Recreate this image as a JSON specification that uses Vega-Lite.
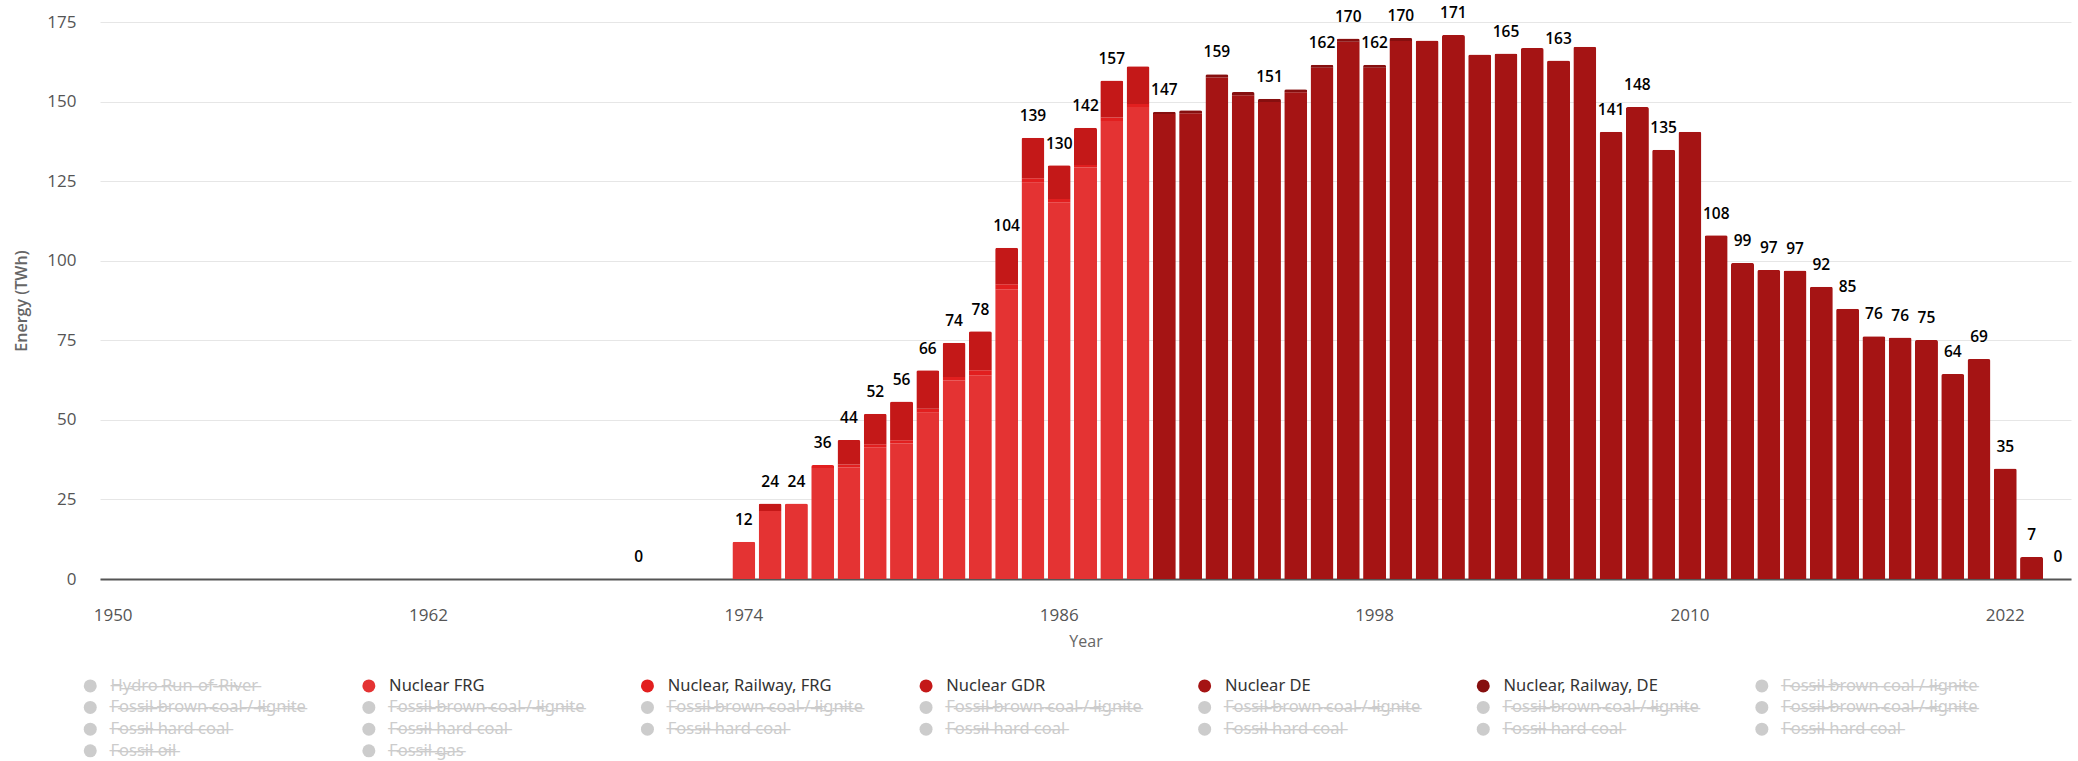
{
  "$schema": "https://vega.github.io/schema/vega-lite/v6.json",
  "width": 1971,
  "height": 557,
  "autosize": {"type": "none"},
  "padding": {"left": 100, "top": 22, "right": 7, "bottom": 182},
  "background": "white",
  "config": {
    "font": "Open Sans",
    "view": {"stroke": null},
    "axisX": {"labelAngle": 0, "ticks": false, "labelPadding": 28, "labelFontSize": 17, "labelColor": "#555555", "domainColor": "#555555", "domainWidth": 2, "grid": false, "titleFontSize": 16, "titleFontWeight": "normal", "titleColor": "#666666", "titlePadding": 10},
    "axisY": {"ticks": false, "domain": false, "labelPadding": 24, "labelFontSize": 17, "labelColor": "#555555", "gridColor": "#e6e6e6", "gridWidth": 1, "titleFontSize": 16, "titleFontWeight": 600, "titleColor": "#666666", "titlePadding": 17}
  },
  "datasets": {
    "nuclear": [
      {"year": 1970, "series": "Nuclear FRG", "value": 0},
      {"year": 1974, "series": "Nuclear FRG", "value": 11.7},
      {"year": 1975, "series": "Nuclear FRG", "value": 21.4},
      {"year": 1975, "series": "Nuclear GDR", "value": 2.3},
      {"year": 1976, "series": "Nuclear FRG", "value": 23.7},
      {"year": 1977, "series": "Nuclear FRG", "value": 34.9},
      {"year": 1977, "series": "Nuclear, Railway, FRG", "value": 0.9},
      {"year": 1978, "series": "Nuclear FRG", "value": 35.0},
      {"year": 1978, "series": "Nuclear, Railway, FRG", "value": 1.0},
      {"year": 1978, "series": "Nuclear GDR", "value": 7.7},
      {"year": 1979, "series": "Nuclear FRG", "value": 41.4},
      {"year": 1979, "series": "Nuclear, Railway, FRG", "value": 0.9},
      {"year": 1979, "series": "Nuclear GDR", "value": 9.6},
      {"year": 1980, "series": "Nuclear FRG", "value": 42.6},
      {"year": 1980, "series": "Nuclear, Railway, FRG", "value": 1.0},
      {"year": 1980, "series": "Nuclear GDR", "value": 12.2},
      {"year": 1981, "series": "Nuclear FRG", "value": 52.2},
      {"year": 1981, "series": "Nuclear, Railway, FRG", "value": 1.3},
      {"year": 1981, "series": "Nuclear GDR", "value": 12.1},
      {"year": 1982, "series": "Nuclear FRG", "value": 62.4},
      {"year": 1982, "series": "Nuclear, Railway, FRG", "value": 1.1},
      {"year": 1982, "series": "Nuclear GDR", "value": 10.7},
      {"year": 1983, "series": "Nuclear FRG", "value": 64.0},
      {"year": 1983, "series": "Nuclear, Railway, FRG", "value": 1.6},
      {"year": 1983, "series": "Nuclear GDR", "value": 12.2},
      {"year": 1984, "series": "Nuclear FRG", "value": 91.0},
      {"year": 1984, "series": "Nuclear, Railway, FRG", "value": 1.6},
      {"year": 1984, "series": "Nuclear GDR", "value": 11.5},
      {"year": 1985, "series": "Nuclear FRG", "value": 124.5},
      {"year": 1985, "series": "Nuclear, Railway, FRG", "value": 1.4},
      {"year": 1985, "series": "Nuclear GDR", "value": 12.7},
      {"year": 1986, "series": "Nuclear FRG", "value": 118.4},
      {"year": 1986, "series": "Nuclear, Railway, FRG", "value": 1.0},
      {"year": 1986, "series": "Nuclear GDR", "value": 10.6},
      {"year": 1987, "series": "Nuclear FRG", "value": 129.3},
      {"year": 1987, "series": "Nuclear, Railway, FRG", "value": 0.8},
      {"year": 1987, "series": "Nuclear GDR", "value": 11.7},
      {"year": 1988, "series": "Nuclear FRG", "value": 143.9},
      {"year": 1988, "series": "Nuclear, Railway, FRG", "value": 1.1},
      {"year": 1988, "series": "Nuclear GDR", "value": 11.6},
      {"year": 1989, "series": "Nuclear FRG", "value": 148.3},
      {"year": 1989, "series": "Nuclear, Railway, FRG", "value": 0.9},
      {"year": 1989, "series": "Nuclear GDR", "value": 11.9},
      {"year": 1990, "series": "Nuclear DE", "value": 146.1},
      {"year": 1990, "series": "Nuclear, Railway, DE", "value": 0.7},
      {"year": 1991, "series": "Nuclear DE", "value": 146.3},
      {"year": 1991, "series": "Nuclear, Railway, DE", "value": 1.0},
      {"year": 1992, "series": "Nuclear DE", "value": 157.6},
      {"year": 1992, "series": "Nuclear, Railway, DE", "value": 1.0},
      {"year": 1993, "series": "Nuclear DE", "value": 152.0},
      {"year": 1993, "series": "Nuclear, Railway, DE", "value": 1.0},
      {"year": 1994, "series": "Nuclear DE", "value": 149.9},
      {"year": 1994, "series": "Nuclear, Railway, DE", "value": 1.0},
      {"year": 1995, "series": "Nuclear DE", "value": 152.9},
      {"year": 1995, "series": "Nuclear, Railway, DE", "value": 1.0},
      {"year": 1996, "series": "Nuclear DE", "value": 160.6},
      {"year": 1996, "series": "Nuclear, Railway, DE", "value": 1.0},
      {"year": 1997, "series": "Nuclear DE", "value": 168.8},
      {"year": 1997, "series": "Nuclear, Railway, DE", "value": 1.0},
      {"year": 1998, "series": "Nuclear DE", "value": 160.6},
      {"year": 1998, "series": "Nuclear, Railway, DE", "value": 1.0},
      {"year": 1999, "series": "Nuclear DE", "value": 169.0},
      {"year": 1999, "series": "Nuclear, Railway, DE", "value": 1.0},
      {"year": 2000, "series": "Nuclear DE", "value": 169.2},
      {"year": 2001, "series": "Nuclear DE", "value": 170.9},
      {"year": 2002, "series": "Nuclear DE", "value": 164.8},
      {"year": 2003, "series": "Nuclear DE", "value": 165.1},
      {"year": 2004, "series": "Nuclear DE", "value": 166.8},
      {"year": 2005, "series": "Nuclear DE", "value": 162.9},
      {"year": 2006, "series": "Nuclear DE", "value": 167.2},
      {"year": 2007, "series": "Nuclear DE", "value": 140.5},
      {"year": 2008, "series": "Nuclear DE", "value": 148.3},
      {"year": 2009, "series": "Nuclear DE", "value": 134.9},
      {"year": 2010, "series": "Nuclear DE", "value": 140.5},
      {"year": 2011, "series": "Nuclear DE", "value": 108.0},
      {"year": 2012, "series": "Nuclear DE", "value": 99.3},
      {"year": 2013, "series": "Nuclear DE", "value": 97.1},
      {"year": 2014, "series": "Nuclear DE", "value": 96.9},
      {"year": 2015, "series": "Nuclear DE", "value": 91.8},
      {"year": 2016, "series": "Nuclear DE", "value": 84.9},
      {"year": 2017, "series": "Nuclear DE", "value": 76.3},
      {"year": 2018, "series": "Nuclear DE", "value": 75.9},
      {"year": 2019, "series": "Nuclear DE", "value": 75.1},
      {"year": 2020, "series": "Nuclear DE", "value": 64.4},
      {"year": 2021, "series": "Nuclear DE", "value": 69.1},
      {"year": 2022, "series": "Nuclear DE", "value": 34.7},
      {"year": 2023, "series": "Nuclear DE", "value": 6.9},
      {"year": 2024, "series": "Nuclear DE", "value": 0}
    ],
    "stackOrder": [
      {"series": "Nuclear FRG", "rank": 1},
      {"series": "Nuclear, Railway, FRG", "rank": 2},
      {"series": "Nuclear GDR", "rank": 3},
      {"series": "Nuclear DE", "rank": 4},
      {"series": "Nuclear, Railway, DE", "rank": 5}
    ]
  },
  "data": {"name": "nuclear"},
  "layer": [
    {
      "transform": [
        {"lookup": "series", "from": {"data": {"name": "stackOrder"}, "key": "series", "fields": ["rank"]}}
      ],
      "mark": {"type": "bar", "cornerRadiusTopLeft": 2, "cornerRadiusTopRight": 2},
      "encoding": {
        "x": {
          "field": "year", "type": "ordinal",
          "scale": {"domain": [1950,1951,1952,1953,1954,1955,1956,1957,1958,1959,1960,1961,1962,1963,1964,1965,1966,1967,1968,1969,1970,1971,1972,1973,1974,1975,1976,1977,1978,1979,1980,1981,1982,1983,1984,1985,1986,1987,1988,1989,1990,1991,1992,1993,1994,1995,1996,1997,1998,1999,2000,2001,2002,2003,2004,2005,2006,2007,2008,2009,2010,2011,2012,2013,2014,2015,2016,2017,2018,2019,2020,2021,2022,2023,2024], "paddingInner": 0.125, "paddingOuter": 0.0625},
          "axis": {"title": "Year", "values": [1950,1962,1974,1986,1998,2010,2022]}
        },
        "y": {
          "field": "value", "type": "quantitative", "stack": "zero",
          "scale": {"domain": [0, 175], "nice": false},
          "axis": {"title": "Energy (TWh)", "values": [0,25,50,75,100,125,150,175]}
        },
        "color": {
          "field": "series", "type": "nominal",
          "scale": {
            "domain": ["Hydro Run-of-River","Nuclear FRG","Nuclear, Railway, FRG","Nuclear GDR","Nuclear DE","Nuclear, Railway, DE","Fossil brown coal / lignite #1","Fossil brown coal / lignite #2","Fossil brown coal / lignite #3","Fossil brown coal / lignite #4","Fossil brown coal / lignite #5","Fossil brown coal / lignite #6","Fossil brown coal / lignite #7","Fossil brown coal / lignite #8","Fossil hard coal #1","Fossil hard coal #2","Fossil hard coal #3","Fossil hard coal #4","Fossil hard coal #5","Fossil hard coal #6","Fossil hard coal #7","Fossil oil","Fossil gas"],
            "range": ["#cccccc","#e43333","#e21f1f","#c41818","#a51414","#860f0f","#cccccc","#cccccc","#cccccc","#cccccc","#cccccc","#cccccc","#cccccc","#cccccc","#cccccc","#cccccc","#cccccc","#cccccc","#cccccc","#cccccc","#cccccc","#cccccc","#cccccc"]
          },
          "legend": {
            "orient": "none", "legendX": -18, "legendY": 655.5, "title": null,
            "columns": 7, "direction": "horizontal", "gridAlign": "all",
            "columnPadding": 54.6, "rowPadding": 4.7, "padding": 0,
            "symbolType": "circle", "symbolSize": 169, "symbolStrokeWidth": 0,
            "labelFont": "Noto Sans", "labelFontSize": 16.5, "labelOffset": 12, "labelLimit": 400, "labelColor": "#333333",
            "labelExpr": "test(regexp('^(Fossil|Hydro)'), datum.value) ? replace(replace(datum.value, regexp(' #[0-9]+$'), ''), regexp('(.)', 'g'), '$1\u0336') : datum.value",
            "encode": {"labels": {"update": {"fill": {"signal": "test(regexp('^(Fossil|Hydro)'), datum.value) ? '#cccccc' : '#333333'"}}}}
          }
        },
        "order": {"field": "rank", "type": "quantitative", "sort": "ascending"}
      }
    },
    {
      "transform": [
        {"aggregate": [{"op": "sum", "field": "value", "as": "total"}], "groupby": ["year"]},
        {"filter": "indexof([1989,1991,1993,1995,2000,2002,2004,2006,2010], datum.year) < 0"}
      ],
      "mark": {"type": "text", "baseline": "middle", "dy": -21.7, "fontSize": 15.5, "fontWeight": 600, "color": "#000000"},
      "encoding": {
        "x": {"field": "year", "type": "ordinal", "axis": {"title": "Year"}},
        "y": {"field": "total", "type": "quantitative", "axis": {"title": "Energy (TWh)"}},
        "text": {"field": "total", "type": "quantitative", "format": ".0f"}
      }
    }
  ]
}
